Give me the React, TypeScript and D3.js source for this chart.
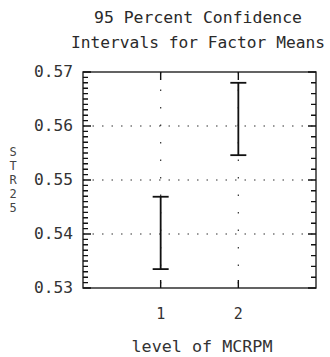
import React from "react";
import * as d3 from "d3";

// Factor levels and the 95% interval bounds for each mean
const levels = [1, 2];
const lowerBounds = [0.5335, 0.5546];
const upperBounds = [0.5469, 0.568];
const yTicks = [0.53, 0.54, 0.55, 0.56, 0.57];
const gridValues = [0.54, 0.55, 0.56];
const titleLines = ["95 Percent Confidence", "Intervals for Factor Means"];
const xTitle = "level of MCRPM";
const yTitle = "STR25";

const W = 330;
const H = 357;
const plotLeft = 83;
const plotRight = 316;
const plotTop = 72;
const plotBottom = 288;
const font = "'DejaVu Sans Mono', 'Liberation Mono', monospace";

export default function App() {
  const x = d3.scaleLinear().domain([0, 3]).range([plotLeft, plotRight]);
  const y = d3.scaleLinear().domain([0.53, 0.57]).range([plotBottom, plotTop]);

  const minorLeft = d3.range(0, 41).map((i) => 0.53 + i * 0.001);
  const minorRight = d3.range(0, 21).map((i) => 0.53 + i * 0.002);

  const tickPath =
    minorLeft
      .map((v, i) => `M${plotLeft},${y(v)}h${i % 10 === 0 ? 8 : 5}`)
      .join("") +
    minorRight
      .map((v, i) => `M${plotRight},${y(v)}h${i % 5 === 0 ? -8 : -5}`)
      .join("") +
    levels
      .map((l) => `M${x(l)},${plotBottom}v-8M${x(l)},${plotTop}v8`)
      .join("");

  return (
    <svg
      width={W}
      height={H}
      style={{ position: "absolute", left: 0, top: 0, background: "#fff" }}
    >
      {/* title */}
      {titleLines.map((t, i) => (
        <text
          key={t}
          x={198}
          y={23 + i * 25}
          textAnchor="middle"
          fontFamily={font}
          fontSize={15.5}
          fill="#2a2a2a"
          textLength={i === 0 ? 208 : 254}
          lengthAdjust="spacingAndGlyphs"
        >
          {t}
        </text>
      ))}

      {/* dotted grid */}
      {gridValues.map((v) => (
        <line
          key={"g" + v}
          x1={plotLeft}
          x2={plotRight}
          y1={y(v)}
          y2={y(v)}
          stroke="#333"
          strokeWidth={1.2}
          strokeDasharray="1.5,8"
        />
      ))}
      {levels.map((l) => (
        <line
          key={"gv" + l}
          x1={x(l)}
          x2={x(l)}
          y1={plotTop}
          y2={plotBottom}
          stroke="#333"
          strokeWidth={1.2}
          strokeDasharray="1.5,16"
        />
      ))}

      {/* frame */}
      <rect
        x={plotLeft}
        y={plotTop}
        width={plotRight - plotLeft}
        height={plotBottom - plotTop}
        fill="none"
        stroke="#222"
        strokeWidth={1.4}
      />

      {/* axis ticks */}
      <path d={tickPath} fill="none" stroke="#111" strokeWidth={1.4} />

      {/* confidence intervals */}
      {levels.map((l, i) => (
        <g key={"ci" + l} stroke="#111" strokeWidth={1.8}>
          <line x1={x(l)} x2={x(l)} y1={y(lowerBounds[i])} y2={y(upperBounds[i])} />
          <line x1={x(l) - 8} x2={x(l) + 8} y1={y(lowerBounds[i])} y2={y(lowerBounds[i])} />
          <line x1={x(l) - 8} x2={x(l) + 8} y1={y(upperBounds[i])} y2={y(upperBounds[i])} />
        </g>
      ))}

      {/* y tick labels */}
      {yTicks.map((v) => (
        <text
          key={"yl" + v}
          x={73}
          y={y(v) + 5}
          textAnchor="end"
          fontFamily={font}
          fontSize={15}
          fill="#333"
          textLength={39}
          lengthAdjust="spacingAndGlyphs"
        >
          {v.toFixed(2)}
        </text>
      ))}

      {/* x tick labels */}
      {levels.map((l) => (
        <text
          key={"xl" + l}
          x={x(l)}
          y={319}
          textAnchor="middle"
          fontFamily={font}
          fontSize={15}
          fill="#333"
        >
          {l}
        </text>
      ))}

      {/* axis titles */}
      <text
        x={202}
        y={352}
        textAnchor="middle"
        fontFamily={font}
        fontSize={15}
        fill="#333"
        textLength={141}
        lengthAdjust="spacingAndGlyphs"
      >
        {xTitle}
      </text>
      {yTitle.split("").map((c, i) => (
        <text
          key={"yt" + i}
          x={13}
          y={156 + i * 14}
          textAnchor="middle"
          fontFamily={font}
          fontSize={12}
          fill="#444"
        >
          {c}
        </text>
      ))}
    </svg>
  );
}
